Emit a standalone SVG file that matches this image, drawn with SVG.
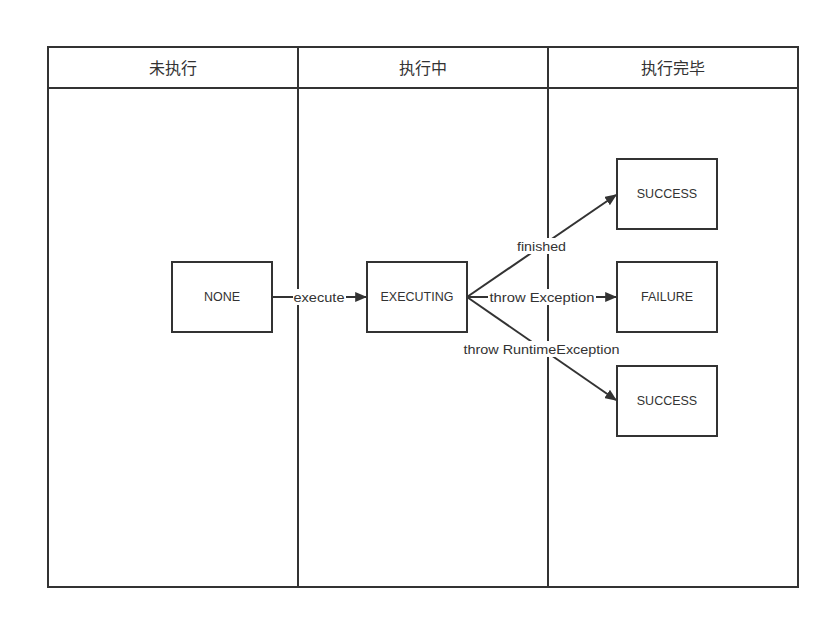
<svg xmlns="http://www.w3.org/2000/svg" width="829" height="620" viewBox="0 0 829 620">
<defs>
<style>
.ln{fill:none;stroke:#333;stroke-width:2}
.nd{fill:#fff;stroke:#333;stroke-width:2}
.t{font-family:"Liberation Sans","Noto Sans CJK SC",sans-serif;fill:#333;text-anchor:middle;dominant-baseline:central}
.h{font-size:16px}
.n{font-size:12.5px}
.l{font-size:13px}
.bg{fill:#fff}
.e{fill:none;stroke:#333;stroke-width:2;marker-end:url(#a)}
</style>
<marker id="a" viewBox="0 0 10 10" refX="9" refY="5" markerWidth="12" markerHeight="10" markerUnits="userSpaceOnUse" orient="auto" preserveAspectRatio="none">
<path d="M0,0 L10,5 L0,10 z" fill="#333"/>
</marker>
</defs>
<rect width="829" height="620" fill="#fff"/>
<g id="pool">
<rect class="ln" x="48" y="47" width="750" height="540"/>
<line class="ln" x1="48" y1="88" x2="798" y2="88"/>
<line class="ln" x1="298" y1="47" x2="298" y2="587"/>
<line class="ln" x1="548" y1="47" x2="548" y2="587"/>
<text class="t h" x="173" y="68">未执行</text>
<text class="t h" x="423" y="68">执行中</text>
<text class="t h" x="673" y="68">执行完毕</text>
</g>
<g id="connectors">
<line class="e" x1="272" y1="297" x2="366" y2="297"/>
<line class="e" x1="467" y1="297" x2="616" y2="195"/>
<line class="e" x1="467" y1="297" x2="616" y2="297"/>
<line class="e" x1="467" y1="297" x2="616" y2="400"/>
<rect class="bg" x="293" y="289" width="53" height="16"/>
<text class="t l" x="319" y="297" textLength="51" lengthAdjust="spacingAndGlyphs">execute</text>
<rect class="bg" x="516" y="238" width="51" height="16"/>
<text class="t l" x="541.5" y="246" textLength="49" lengthAdjust="spacingAndGlyphs">finished</text>
<rect class="bg" x="488" y="289" width="108" height="16"/>
<text class="t l" x="542" y="297" textLength="105" lengthAdjust="spacingAndGlyphs">throw Exception</text>
<rect class="bg" x="462" y="341" width="159" height="16"/>
<text class="t l" x="541.5" y="349" textLength="156" lengthAdjust="spacingAndGlyphs">throw RuntimeException</text>
</g>
<g id="none">
<rect class="nd" x="172" y="262" width="100" height="70"/>
<text class="t n" x="222" y="297">NONE</text>
</g>
<g id="executing">
<rect class="nd" x="367" y="262" width="100" height="70"/>
<text class="t n" x="417" y="297">EXECUTING</text>
</g>
<g id="success1">
<rect class="nd" x="617" y="159" width="100" height="70"/>
<text class="t n" x="667" y="194">SUCCESS</text>
</g>
<g id="failure">
<rect class="nd" x="617" y="262" width="100" height="70"/>
<text class="t n" x="667" y="297">FAILURE</text>
</g>
<g id="success2">
<rect class="nd" x="617" y="366" width="100" height="70"/>
<text class="t n" x="667" y="401">SUCCESS</text>
</g>
</svg>
